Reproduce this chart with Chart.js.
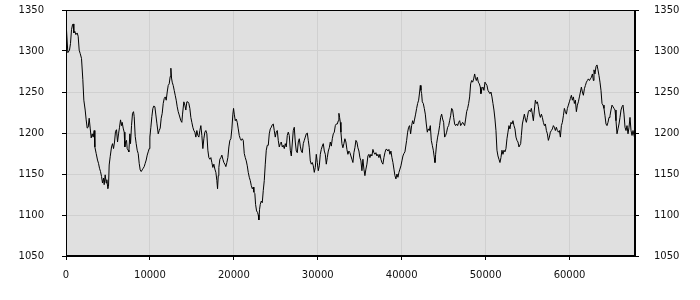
<!DOCTYPE html>
<html>
<head>
<meta charset="utf-8">
<script src="https://cdn.jsdelivr.net/npm/chart.js@4/dist/chart.umd.min.js"></script>
<style>
html,body{margin:0;padding:0;background:#fff;}
canvas{display:block;}
</style>
</head>
<body>
<canvas id="c" width="700" height="300"></canvas>
<script>
const xTicks = [0, 10000, 20000, 30000, 40000, 50000, 60000];
const yTicks = [1050, 1100, 1150, 1200, 1250, 1300, 1350];

const sampleX = [
0,218,417,536,656,775,854,934,1053,1172,1331,1450,1570,1689,1848,2006,2126,2285,2404,2523,2643,2762,2881,3000,3120,3239,3358,3437,3596,3755,3874,3993,4112,4232,4351,4470,4550,4669,4788,4867,4986,5066,5146,5265,5424,5543,5662,5781,5900,6020,6139,6258,6377,6496,6616,6695,6814,6934,7013,7092,7212,7291,7410,7490,7609,7688,7808,7927,8046,8125,8245,8364,8483,8602,8722,8841,8960,9079,9199,9318,9437,9556,9676,9795,9914,9993,10112,10231,10351,10470,10589,10708,10828,10987,11106,11225,11344,11464,11583,11702,11821,11940,12060,12179,12298,12417,12496,12576,12655,12774,12894,13013,13132,13251,13371,13490,
13684,13803,13887,14042,14161,14280,14399,14519,14638,14757,14876,14995,15115,15234,15353,15472,15592,15711,15830,15949,16068,16188,16307,16426,16545,16665,16784,16903,17022,17142,17261,17380,17499,17618,17738,17857,17976,18059,18143,18214,18333,18452,18572,18691,18810,18929,19048,19168,19287,19406,19525,19645,19764,19883,19966,20049,20169,20288,20407,20526,20645,20765,20884,21003,21122,21241,21361,21480,21599,21718,21838,21957,22076,22195,22315,22386,22505,22588,22708,22827,22910,22982,23065,23149,23268,23387,23506,23625,23745,23864,23983,24102,24221,24341,24460,24579,24698,24817,24937,25056,25175,25294,25413,25533,25652,25771,25890,26009,26129,26248,26367,26486,26605,26725,26844,
27082,27201,27321,27440,27559,27678,27797,27917,28036,28155,28274,28393,28513,28632,28751,28870,28990,29109,29228,29347,29466,29586,29705,29824,29943,30062,30182,30301,30420,30539,30658,30778,30897,31016,31135,31254,31374,31493,31612,31731,31850,31970,32089,32208,32327,32447,32518,32601,32685,32757,32876,32995,33114,33233,33353,33472,33591,33710,33829,33949,34068,34187,34306,34425,34545,34664,34783,34902,35021,35141,35260,35379,35498,35617,35737,35856,35975,36094,36214,36333,36452,36571,36690,36810,36929,37048,37167,37286,37406,37525,37644,37763,37882,38002,38121,38240,38359,38478,38598,38717,38836,38955,39074,39194,39313,39432,39551,39670,39790,39909,40028,40147,40266,40386,
40588,40707,40826,40945,41064,41184,41303,41422,41541,41660,41780,41899,42018,42137,42217,42296,42376,42455,42574,42693,42813,42932,43051,43170,43289,43409,43528,43647,43766,43885,43965,44044,44164,44283,44402,44521,44640,44760,44879,44998,45117,45236,45356,45475,45594,45713,45832,45952,46071,46190,46309,46428,46548,46667,46786,46905,47024,47144,47263,47382,47501,47620,47740,47859,47978,48097,48216,48336,48455,48574,48693,48772,48892,49011,49130,49249,49369,49440,49563,49683,49802,49921,50040,50160,50279,50398,50517,50636,50756,50875,50994,51113,51233,51352,51471,51590,51709,51829,51948,52067,52186,52305,52425,52544,52663,52782,52901,53021,53140,53259,53378,53497,53617,53736,53855,53974,
54176,54260,54379,54498,54617,54737,54856,54975,55094,55213,55333,55452,55571,55690,55809,55929,56048,56167,56286,56405,56525,56644,56763,56882,57002,57121,57240,57359,57478,57598,57717,57836,57955,58074,58194,58313,58432,58551,58670,58790,58909,59028,59147,59266,59386,59505,59624,59743,59862,59982,60101,60220,60339,60458,60578,60697,60816,60935,61054,61174,61293,61412,61531,61650,61770,61889,62008,62127,62246,62366,62485,62604,62723,62842,62914,63033,63152,63271,63391,63510,63629,63748,63868,63987,64106,64225,64344,64464,64583,64702,64821,64940,65060,65179,65298,65417,65536,65656,65775,65894,66013,66132,66252,66371,66490,66609,66728,66848,66967,67086,67205,67324,67444,67563,67682,67800
];

const valueY = [
1336,1298,1301,1309,1326,1332,1333,1322,1324,1320,1322,1318,1301,1297,1291,1265,1240,1228,1216,1206,1207,1218,1206,1194,1199,1195,1203,1183,1175,1167,1163,1157,1153,1147,1139,1145,1137,1149,1139,1143,1132,1135,1161,1171,1183,1187,1181,1189,1202,1204,1189,1199,1207,1216,1209,1213,1206,1201,1183,1189,1191,1181,1179,1177,1199,1187,1209,1224,1226,1220,1196,1187,1179,1175,1163,1155,1153,1155,1157,1159,1163,1167,1173,1177,1181,1195,1207,1220,1230,1233,1232,1222,1212,1199,1203,1206,1218,1224,1236,1242,1244,1240,1250,1258,1260,1269,1279,1267,1262,1258,1252,1246,1240,1232,1226,1222,
1215,1213,1223,1238,1234,1228,1238,1238,1236,1230,1219,1213,1207,1203,1201,1195,1203,1197,1195,1203,1209,1197,1181,1193,1201,1203,1199,1179,1170,1168,1170,1164,1158,1162,1156,1152,1142,1132,1148,1158,1168,1170,1173,1168,1164,1162,1159,1164,1170,1183,1191,1193,1205,1223,1230,1223,1215,1217,1213,1205,1197,1193,1191,1193,1191,1175,1170,1166,1160,1152,1146,1142,1136,1132,1134,1128,1126,1113,1105,1103,1100,1094,1107,1113,1117,1115,1130,1142,1162,1179,1185,1185,1199,1205,1207,1210,1211,1203,1195,1201,1203,1191,1183,1187,1189,1183,1185,1181,1187,1183,1197,1201,1197,1179,1172,
1203,1207,1189,1178,1176,1189,1193,1184,1178,1176,1187,1191,1195,1199,1200,1191,1182,1166,1162,1164,1160,1152,1158,1174,1164,1154,1160,1174,1180,1184,1187,1178,1174,1162,1170,1178,1182,1189,1184,1193,1199,1201,1209,1211,1211,1215,1224,1219,1213,1201,1187,1182,1187,1193,1189,1180,1174,1178,1176,1172,1168,1164,1176,1182,1191,1189,1182,1178,1170,1166,1154,1168,1156,1148,1156,1162,1172,1174,1170,1174,1172,1180,1176,1174,1176,1172,1174,1170,1174,1168,1164,1162,1170,1176,1180,1180,1178,1180,1174,1178,1170,1164,1156,1148,1144,1150,1146,1152,1156,1160,1166,1172,1175,1177,
1191,1201,1207,1209,1199,1209,1215,1211,1217,1223,1230,1236,1240,1250,1258,1252,1248,1238,1236,1230,1223,1211,1201,1205,1203,1209,1191,1185,1179,1170,1164,1174,1187,1195,1201,1209,1219,1223,1217,1213,1195,1197,1201,1207,1209,1215,1221,1230,1228,1219,1211,1209,1211,1209,1213,1215,1209,1211,1213,1211,1209,1217,1226,1230,1236,1244,1260,1264,1262,1266,1272,1268,1264,1268,1262,1260,1256,1248,1254,1256,1252,1262,1260,1258,1252,1250,1248,1250,1244,1236,1228,1217,1203,1179,1172,1168,1164,1170,1179,1174,1179,1177,1181,1193,1201,1209,1205,1213,1211,1215,1209,1205,1195,1191,1189,1183,
1187,1197,1211,1217,1223,1217,1213,1219,1226,1228,1226,1230,1223,1215,1228,1240,1236,1238,1232,1223,1219,1223,1219,1213,1209,1211,1203,1199,1191,1195,1201,1203,1205,1209,1207,1203,1207,1203,1201,1203,1195,1209,1213,1221,1230,1226,1223,1230,1234,1238,1242,1246,1240,1244,1236,1240,1226,1234,1238,1244,1250,1256,1250,1246,1254,1258,1262,1264,1266,1264,1266,1268,1272,1264,1277,1272,1281,1283,1277,1270,1262,1252,1236,1234,1230,1221,1211,1209,1213,1219,1221,1228,1234,1232,1230,1228,1215,1199,1205,1211,1219,1228,1232,1234,1223,1207,1203,1209,1199,1207,1219,1203,1197,1203,1197,1193
];

const points = sampleX.map((x, i) => ({ x: x, y: valueY[i] }));

const frame = {
  id: 'frame',
  beforeDraw(chart) {
    const a = chart.chartArea, c = chart.ctx;
    c.save();
    c.fillStyle = '#e0e0e0';
    c.fillRect(a.left, a.top, a.right - a.left, a.bottom - a.top);
    c.restore();
  },
  afterDraw(chart) {
    const a = chart.chartArea, c = chart.ctx;
    c.save();
    c.strokeStyle = '#000';
    c.lineWidth = 1;
    c.strokeRect(Math.round(a.left) + 0.5, Math.round(a.top) + 0.5, Math.round(a.right - a.left) - 1, Math.round(a.bottom - a.top) - 1);
    c.restore();
  }
};

const tickFont = { family: 'DejaVu Sans', size: 10 };
const noPad = s => { s.paddingTop = 0; s.paddingBottom = 0; s.paddingLeft = 0; s.paddingRight = 0; };

new Chart(document.getElementById('c'), {
  type: 'line',
  data: {
    datasets: [{
      data: points,
      borderColor: '#000',
      borderWidth: 1,
      pointRadius: 0,
      tension: 0,
      fill: false
    }]
  },
  options: {
    responsive: false,
    animation: false,
    devicePixelRatio: 1,
    layout: { padding: { top: 10, left: 0, right: 0, bottom: 0 } },
    plugins: { legend: { display: false }, tooltip: { enabled: false } },
    scales: {
      x: {
        type: 'linear',
        min: 0,
        max: 67800,
        afterBuildTicks: s => { s.ticks = xTicks.map(v => ({ value: v })); },
        afterFit: s => { s.height = 44; noPad(s); },
        grid: { color: '#d0d0d0', tickColor: '#000', tickLength: 4, lineWidth: 1 },
        border: { color: '#000', width: 1 },
        ticks: { color: '#111', font: tickFont, padding: 9, maxRotation: 0, autoSkip: false, callback: v => String(v) }
      },
      y: {
        position: 'left',
        min: 1050,
        max: 1350,
        afterBuildTicks: s => { s.ticks = yTicks.map(v => ({ value: v })); },
        afterFit: s => { s.width = 66; noPad(s); },
        grid: { color: '#d0d0d0', tickColor: '#000', tickLength: 4, lineWidth: 1 },
        border: { color: '#000', width: 1 },
        ticks: { color: '#111', font: tickFont, padding: 18, callback: v => String(v) }
      },
      y2: {
        position: 'right',
        min: 1050,
        max: 1350,
        afterBuildTicks: s => { s.ticks = yTicks.map(v => ({ value: v })); },
        afterFit: s => { s.width = 65; noPad(s); },
        grid: { drawOnChartArea: false, color: '#000', tickColor: '#000', tickLength: 4, lineWidth: 1 },
        border: { color: '#000', width: 1 },
        ticks: { color: '#111', font: tickFont, padding: 15, callback: v => String(v) }
      }
    }
  },
  plugins: [frame]
});
</script>
</body>
</html>
